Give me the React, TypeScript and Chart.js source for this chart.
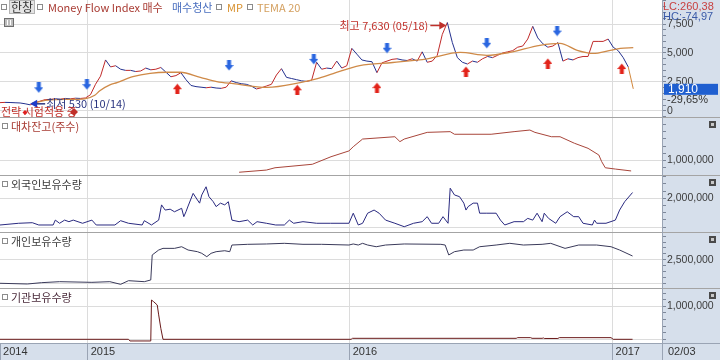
import React, { useEffect, useRef } from 'react';
import { Chart, registerables } from 'chart.js';

Chart.register(...registerables);

// ---------- time axis (x values are day numbers counted from 2014-01-01) ----------
const X_MIN = 243;
const X_MAX = 1165;
const yearTickDays = [243, 365, 730, 1096];
const yearTickLabels = ['2014', '2015', '2016', '2017'];
const lastDateLabel = '02/03';

// ---------- price panel ----------
const priceStartDay = 243;
const priceStepDays = 7;
const priceValues = [
  720, 740, 730, 710, 690, 620, 530, 700, 850, 980,
  1000, 1050, 1020, 1080, 1050, 1100, 1080, 1120, 1400, 2300,
  3000, 4400, 3800, 3900, 3600, 3500, 3500, 3400, 3450, 3700,
  3550, 3600, 3750, 3350, 2950, 3050, 3300, 2700, 2200, 2100,
  2050, 2000, 2050, 1980, 1950, 2050, 2600, 2450, 2350, 2300,
  2150, 1900, 2000, 2150, 2300, 3100, 3650, 2900, 2800, 2700,
  2600, 2550, 2650, 4200, 3600, 3700, 3650, 4300, 3700, 3900,
  5400, 4900, 4400, 4300, 4250, 3300, 4150, 4300, 4450, 4500,
  4400, 4350, 4500, 4300, 5100, 4200, 4300, 4800, 6600, 7630,
  5900, 4600, 4200, 4050, 4300, 4200, 4500, 4700, 4600, 4800,
  5000, 5100, 5200, 5500, 5600, 6200, 7300, 6300, 5800, 5500,
  5600, 5900, 4300, 4500, 4400, 4600, 4700, 4700, 6000, 6000,
  6000, 6200, 5500, 5200, 4600, 3800, 1910,
];
const temaDays = [288, 313, 341, 361, 375, 382, 396, 406, 428, 452, 476, 494, 522, 545, 568, 615, 661, 685, 707, 744, 790, 838, 884, 921, 953, 995, 1023, 1047, 1069, 1093, 1107, 1125];
const temaValues = [700, 950, 1000, 1050, 1350, 1750, 2250, 2450, 2960, 3250, 3340, 3340, 2900, 2530, 2350, 2030, 2440, 2780, 3220, 3920, 4180, 4500, 5050, 4800, 5050, 5660, 5830, 5230, 4960, 5230, 5400, 5460];
const sellSignalDays = [297, 364, 562, 680, 782, 921, 1019];
const sellSignalLevels = [2000, 2270, 3920, 4450, 5410, 5840, 6890];
const buySignalDays = [490, 657, 768, 892, 1006, 1109];
const buySignalLevels = [1920, 1830, 2010, 3400, 4100, 3660];
const priceAxisLabels = [0, 2500, 5000, 7500];
const highLabel = '최고 7,630 (05/18)';
const lowLabel = '최저 530 (10/14)';
const strategyLabel = '전략 시험적용 중';
const lcLabel = 'LC:260,38';
const hcLabel = 'HC:-74,97';
const changeLabel = '-29,65%';

// ---------- 대차잔고(주수) ----------
const loanDays = [576, 614, 626, 678, 704, 729, 735, 748, 793, 800, 806, 838, 870, 876, 927, 959, 981, 988, 1011, 1023, 1043, 1062, 1077, 1081, 1086, 1100, 1122];
const loanValues = [190000, 340000, 500000, 740000, 1260000, 1660000, 1950000, 2480000, 2640000, 2300000, 2480000, 2940000, 2990000, 2810000, 2810000, 2990000, 3100000, 2940000, 2640000, 2640000, 2190000, 1840000, 1380000, 920000, 500000, 410000, 280000];

// ---------- 외국인보유수량 ----------
const foreignDays = [243, 269, 288, 297, 317, 320, 326, 333, 339, 345, 358, 371, 377, 403, 411, 422, 441, 444, 454, 464, 468, 473, 480, 486, 496, 499, 502, 505, 512, 518, 521, 524, 530, 534, 540, 544, 550, 556, 561, 566, 576, 588, 595, 601, 614, 627, 639, 646, 652, 665, 684, 703, 729, 735, 742, 748, 755, 764, 771, 780, 793, 806, 819, 831, 838, 844, 854, 860, 867, 870, 876, 883, 889, 892, 895, 902, 908, 911, 921, 934, 940, 946, 959, 972, 978, 985, 991, 998, 1001, 1007, 1017, 1023, 1033, 1042, 1049, 1055, 1068, 1071, 1074, 1087, 1100, 1106, 1113, 1124];
const foreignValues = [1070000, 1130000, 1150000, 1070000, 1070000, 1240000, 1130000, 1240000, 1185000, 1240000, 1130000, 1240000, 1070000, 1070000, 1220000, 1130000, 1070000, 1220000, 1070000, 1240000, 1770000, 1590000, 1620000, 1530000, 1650000, 1360000, 1530000, 1730000, 2170000, 1940000, 1830000, 2115000, 2400000, 2056000, 1880000, 1710000, 1830000, 1770000, 1880000, 1240000, 1185000, 1240000, 1070000, 1185000, 1130000, 1070000, 1070000, 1240000, 1130000, 1185000, 1130000, 1130000, 1130000, 1480000, 1070000, 1130000, 1480000, 1590000, 1480000, 1240000, 1130000, 1010000, 1130000, 1185000, 1360000, 1130000, 1130000, 1360000, 1130000, 2350000, 2115000, 2056000, 1830000, 1590000, 1710000, 1830000, 1830000, 1480000, 1480000, 1480000, 1240000, 1070000, 1185000, 1185000, 1300000, 1240000, 1480000, 1185000, 1480000, 1300000, 1130000, 1360000, 1530000, 1360000, 1360000, 1130000, 1070000, 1240000, 1130000, 1130000, 1240000, 1590000, 1880000, 2200000];

// ---------- 개인보유수량 ----------
const personalDays = [243, 281, 301, 326, 371, 396, 411, 422, 444, 453, 455, 464, 470, 486, 496, 505, 518, 524, 531, 537, 544, 556, 563, 566, 588, 614, 639, 665, 691, 729, 735, 742, 748, 755, 767, 780, 806, 857, 863, 868, 876, 889, 902, 911, 934, 953, 972, 998, 1010, 1030, 1049, 1074, 1094, 1106, 1124];
const personalValues = [2000000, 1985000, 2013000, 2034000, 2020000, 2034000, 1978000, 2055000, 2034000, 2070000, 2600000, 2705000, 2740000, 2740000, 2775000, 2705000, 2670000, 2635000, 2564000, 2635000, 2670000, 2690000, 2670000, 2811000, 2826000, 2833000, 2847000, 2826000, 2826000, 2811000, 2833000, 2811000, 2847000, 2811000, 2775000, 2811000, 2833000, 2826000, 2811000, 2600000, 2670000, 2705000, 2705000, 2775000, 2811000, 2847000, 2811000, 2826000, 2847000, 2740000, 2811000, 2811000, 2775000, 2705000, 2578000];

// ---------- 기관보유수량 ----------
const instDays = [243, 422, 424, 453, 454, 457, 462, 464, 467, 470, 732, 734, 962, 964, 982, 984, 998, 1000, 1001, 1020, 1022, 1094, 1097, 1124];
const instValues = [0, 0, -50000, -50000, 1190000, 1140000, 1040000, 740000, 330000, 0, 0, 30000, 30000, 50000, 50000, 30000, 30000, 40000, 25000, 25000, 50000, 50000, 0, 0];

// ---------- styles ----------
const FONT_UI = '"Noto Sans CJK KR", "Liberation Sans", sans-serif';
const FONT_NUM = '"Liberation Sans", Arial, sans-serif';
const GRID = '#dcdcdc';
const PANEL_BG = '#d6dfeb';
const SEP = '#a4a4a4';
const UP = '#c02a2a';
const DOWN = '#24318f';

const pts = (xs: number[], ys: number[]) => xs.map((x, i) => ({ x, y: ys[i] }));

function stepTicks(min: number, max: number, step: number) {
  const out: { value: number }[] = [];
  const k0 = Math.ceil(min / step);
  const k1 = Math.floor(max / step);
  for (let k = k0; k <= k1; k++) out.push({ value: k * step });
  return out;
}

function panelAxis(weight: number, min: number, max: number, step: number, labels: number[], grids: number[]) {
  return {
    type: 'linear',
    position: 'right',
    stack: 'panels',
    stackWeight: weight,
    min,
    max,
    afterBuildTicks: (s: any) => { s.ticks = stepTicks(min, max, step); },
    afterFit: (s: any) => {
      s.width = 58;
      s.paddingTop = 0; s.paddingBottom = 0; s.paddingLeft = 0; s.paddingRight = 0;
    },
    border: { display: false },
    grid: {
      drawTicks: true,
      tickLength: 4,
      color: (c: any) => (c.tick && grids.includes(c.tick.value) ? GRID : 'rgba(0,0,0,0)'),
      tickColor: '#7d8799',
    },
    ticks: {
      autoSkip: false,
      padding: 1,
      color: '#3c3c3c',
      font: { family: FONT_NUM, size: 10.5 },
      callback: (v: any) => (labels.includes(Number(v)) ? Number(v).toLocaleString('en-US') : ''),
    },
  };
}

function makeArrow(color: string, down: boolean) {
  const c = document.createElement('canvas');
  c.width = 9; c.height = 11;
  const g = c.getContext('2d')!;
  g.fillStyle = color;
  g.beginPath();
  if (down) {
    g.rect(2.5, 0, 4, 5);
    g.moveTo(0, 5); g.lineTo(9, 5); g.lineTo(4.5, 10.5); g.closePath();
  } else {
    g.moveTo(4.5, 0.5); g.lineTo(9, 6); g.lineTo(0, 6); g.closePath();
    g.rect(2.5, 6, 4, 5);
  }
  g.fill();
  return c;
}

function txt(ctx: CanvasRenderingContext2D, s: string, x: number, y: number, color: string, font: string, align: CanvasTextAlign = 'left') {
  ctx.fillStyle = color;
  ctx.font = font;
  ctx.textAlign = align;
  ctx.textBaseline = 'middle';
  ctx.fillText(s, x, y);
}

function square(ctx: CanvasRenderingContext2D, x: number, y: number) {
  ctx.fillStyle = '#ffffff';
  ctx.fillRect(x + 0.5, y + 0.5, 5, 5);
  ctx.strokeStyle = '#8c8c8c';
  ctx.lineWidth = 1;
  ctx.strokeRect(x + 0.5, y + 0.5, 5, 5);
}

const decorPlugin = {
  id: 'hts-decor',
  beforeDraw(chart: any) {
    const { ctx, width, height, chartArea: a } = chart;
    ctx.save();
    ctx.fillStyle = '#ffffff';
    ctx.fillRect(0, 0, width, height);
    ctx.fillStyle = PANEL_BG;
    ctx.fillRect(a.right, 0, width - a.right, height);
    ctx.fillRect(0, a.bottom, width, height - a.bottom);
    ctx.restore();
  },
  afterDraw(chart: any) {
    const { ctx, width, height, chartArea: a, scales } = chart;
    const xs = scales.x;
    const yP = scales.yPrice;
    ctx.save();
    ctx.lineWidth = 1;
    const line = (x0: number, y0: number, x1: number, y1: number, color: string) => {
      ctx.strokeStyle = color;
      ctx.beginPath(); ctx.moveTo(x0, y0); ctx.lineTo(x1, y1); ctx.stroke();
    };
    // panel separators
    const panelIds = ['yLoan', 'yForeign', 'yPersonal', 'yInst'];
    panelIds.forEach((id) => {
      const yy = Math.round(scales[id].top) + 0.5;
      line(0, yy, width, yy, SEP);
    });
    line(0, Math.round(a.bottom) + 0.5, width, Math.round(a.bottom) + 0.5, '#9aa4b4');
    line(Math.round(a.right) + 0.5, 0, Math.round(a.right) + 0.5, height, '#9aa4b4');

    // legend row
    const fL = '11px ' + FONT_UI;
    square(ctx, 1, 4);
    ctx.fillStyle = '#e4e4e4';
    ctx.fillRect(9.5, 0.5, 25, 13);
    ctx.strokeStyle = '#b4b4b4';
    ctx.strokeRect(9.5, 0.5, 25, 13);
    txt(ctx, '한창', 11, 7.5, '#333333', '12px ' + FONT_UI);
    square(ctx, 37, 4);
    txt(ctx, 'Money Flow Index 매수', 48, 7.5, '#a83a32', fL);
    txt(ctx, '매수청산', 172, 7.5, '#4a6fbf', fL);
    square(ctx, 216, 4);
    txt(ctx, 'MP', 227, 7.5, '#d8902c', fL);
    square(ctx, 247, 4);
    txt(ctx, 'TEMA 20', 257, 7.5, '#d4a060', fL);
    // small tool button
    ctx.fillStyle = '#bdbdbd';
    ctx.fillRect(4.5, 18.5, 9, 8);
    ctx.strokeStyle = '#6e6e6e';
    ctx.strokeRect(4.5, 18.5, 9, 8);
    line(7.5, 20, 7.5, 25, '#ffffff');
    line(10.5, 20, 10.5, 25, '#ffffff');

    // panel titles and close icons
    const titles: [string, string, string][] = [
      ['yLoan', '대차잔고(주수)', '#a83a32'],
      ['yForeign', '외국인보유수량', '#3a3a3a'],
      ['yPersonal', '개인보유수량', '#3a3a3a'],
      ['yInst', '기관보유수량', '#4a2a3a'],
    ];
    const f11 = '11px ' + FONT_UI;
    titles.forEach(([id, label, color]) => {
      const top = scales[id].top;
      square(ctx, 2, top + 6);
      txt(ctx, label, 11, top + 9.5, color, f11);
      ctx.fillStyle = '#4a4a4a';
      ctx.fillRect(709, top + 4, 7, 7);
      ctx.fillStyle = '#c8c8c8';
      ctx.fillRect(711, top + 6, 3, 3);
    });

    // highest price annotation
    let hi = 0, lo = 0;
    priceValues.forEach((v, i) => {
      if (v > priceValues[hi]) hi = i;
      if (v < priceValues[lo]) lo = i;
    });
    const hx = xs.getPixelForValue(priceStartDay + hi * priceStepDays);
    const hy = yP.getPixelForValue(priceValues[hi]) + 3;
    const red = '#c0302a';
    ctx.strokeStyle = red; ctx.lineWidth = 1.5;
    ctx.beginPath(); ctx.moveTo(hx - 17, hy); ctx.lineTo(hx - 6, hy); ctx.stroke();
    ctx.fillStyle = red;
    ctx.beginPath(); ctx.moveTo(hx - 1, hy); ctx.lineTo(hx - 8, hy - 4); ctx.lineTo(hx - 8, hy + 4); ctx.closePath(); ctx.fill();
    txt(ctx, highLabel, hx - 19, hy, red, f11, 'right');

    // lowest price annotation
    const lx = xs.getPixelForValue(priceStartDay + lo * priceStepDays);
    const ly = yP.getPixelForValue(priceValues[lo]) - 1;
    const navy = '#2a3580';
    ctx.strokeStyle = navy; ctx.lineWidth = 1.5;
    ctx.beginPath(); ctx.moveTo(lx + 6, ly); ctx.lineTo(lx + 15, ly); ctx.stroke();
    ctx.fillStyle = '#1f3cc8';
    ctx.beginPath(); ctx.moveTo(lx, ly); ctx.lineTo(lx + 7, ly - 4); ctx.lineTo(lx + 7, ly + 4); ctx.closePath(); ctx.fill();
    txt(ctx, lowLabel, lx + 16, ly, navy, f11);

    // strategy note
    txt(ctx, strategyLabel, 1, 112, red, f11);
    ctx.fillStyle = red;
    ctx.beginPath(); ctx.moveTo(74, 108); ctx.lineTo(78, 112); ctx.lineTo(74, 116); ctx.lineTo(70, 112); ctx.closePath(); ctx.fill();
    ctx.fillStyle = '#e02020';
    ctx.beginPath(); ctx.moveTo(25, 110); ctx.lineTo(27.5, 112.5); ctx.lineTo(25, 115); ctx.lineTo(22.5, 112.5); ctx.closePath(); ctx.fill();

    // right panel texts
    const fN = '11px ' + FONT_NUM;
    txt(ctx, lcLabel, 663, 6.5, '#c84040', fN);
    txt(ctx, hcLabel, 663, 16.5, '#3a5aa8', fN);
    const last = priceValues[priceValues.length - 1];
    const py = yP.getPixelForValue(last);
    ctx.fillStyle = '#1f5fd0';
    ctx.fillRect(664, py - 5, 54, 11);
    txt(ctx, last.toLocaleString('en-US'), 668, py + 0.5, '#ffffff', '12px ' + FONT_NUM);
    txt(ctx, changeLabel, 667, py + 11.5, '#333333', fN);
    txt(ctx, lastDateLabel, 668, (a.bottom + height) / 2 + 0.5, '#333333', fN);
    ctx.restore();
  },
};

export default function App() {
  const ref = useRef<HTMLCanvasElement>(null);
  useEffect(() => {
    const canvas = ref.current;
    if (!canvas) return;
    const sellImg = makeArrow('#2a66e0', true);
    const buyImg = makeArrow('#e2231a', false);
    const pricePts = priceValues.map((v, i) => ({ x: priceStartDay + i * priceStepDays, y: v }));
    const lastIdx = priceValues.length - 1;

    const chart = new Chart(canvas, {
      type: 'line',
      data: {
        datasets: [
          {
            label: 'TEMA 20',
            data: pts(temaDays, temaValues),
            yAxisID: 'yPrice',
            borderColor: '#cf8a48',
            borderWidth: 1.3,
            pointRadius: 0,
            cubicInterpolationMode: 'monotone',
          },
          {
            label: '한창',
            data: pricePts,
            yAxisID: 'yPrice',
            borderWidth: 1,
            pointRadius: 0,
            borderColor: DOWN,
            segment: {
              borderColor: (c: any) =>
                c.p1DataIndex === lastIdx ? '#d2873c' : c.p1.parsed.y >= c.p0.parsed.y ? UP : DOWN,
            },
          },
          {
            label: '매수청산',
            data: pts(sellSignalDays, sellSignalLevels),
            yAxisID: 'yPrice',
            showLine: false,
            pointStyle: sellImg,
            pointRadius: 5,
          },
          {
            label: 'Money Flow Index 매수',
            data: pts(buySignalDays, buySignalLevels),
            yAxisID: 'yPrice',
            showLine: false,
            pointStyle: buyImg,
            pointRadius: 5,
          },
          {
            label: '대차잔고(주수)',
            data: pts(loanDays, loanValues),
            yAxisID: 'yLoan',
            borderColor: '#a8453a',
            borderWidth: 1,
            pointRadius: 0,
          },
          {
            label: '외국인보유수량',
            data: pts(foreignDays, foreignValues),
            yAxisID: 'yForeign',
            borderColor: '#2a2a80',
            borderWidth: 1,
            pointRadius: 0,
          },
          {
            label: '개인보유수량',
            data: pts(personalDays, personalValues),
            yAxisID: 'yPersonal',
            borderColor: '#3a3a5a',
            borderWidth: 1,
            pointRadius: 0,
          },
          {
            label: '기관보유수량',
            data: pts(instDays, instValues),
            yAxisID: 'yInst',
            borderColor: '#6a1a1a',
            borderWidth: 1,
            pointRadius: 0,
          },
        ] as any,
      },
      options: {
        responsive: false,
        animation: false,
        events: [],
        layout: { padding: 0, autoPadding: false },
        plugins: { legend: { display: false }, tooltip: { enabled: false } },
        scales: {
          x: {
            type: 'linear',
            position: 'bottom',
            min: X_MIN,
            max: X_MAX,
            afterBuildTicks: (s: any) => { s.ticks = yearTickDays.map((v) => ({ value: v })); },
            afterFit: (s: any) => {
              s.height = 17;
              s.paddingLeft = 0; s.paddingRight = 0; s.paddingTop = 0; s.paddingBottom = 0;
            },
            border: { display: false },
            grid: {
              color: (c: any) => (c.tick && c.tick.value === X_MIN ? 'rgba(0,0,0,0)' : GRID),
              drawTicks: true,
              tickLength: 17,
              tickColor: '#9aa4b4',
            },
            ticks: {
              autoSkip: false,
              maxRotation: 0,
              align: 'start',
              padding: -15,
              color: '#333333',
              font: { family: FONT_NUM, size: 11 },
              callback: (v: any) => {
                const i = yearTickDays.indexOf(Number(v));
                return i >= 0 ? ' ' + yearTickLabels[i] : '';
              },
            },
          },
          yPrice: panelAxis(117, -520, 9570, 500, priceAxisLabels, priceAxisLabels),
          yLoan: panelAxis(58, 0, 4000000, 500000, [1000000], [1000000]),
          yForeign: panelAxis(57, 826000, 2810000, 250000, [2000000], [1000000, 2000000]),
          yPersonal: panelAxis(56, 1900000, 3087000, 125000, [2500000], [2000000, 2500000]),
          yInst: panelAxis(55, -112000, 1555000, 200000, [1000000], [0, 1000000]),
        } as any,
      },
      plugins: [decorPlugin],
    } as any);
    return () => chart.destroy();
  }, []);

  return (
    <div style={{ position: 'fixed', left: 0, top: 0, width: 720, height: 360, background: '#fff' }}>
      <canvas ref={ref} width={720} height={360} style={{ width: 720, height: 360, display: 'block' }} />
    </div>
  );
}
